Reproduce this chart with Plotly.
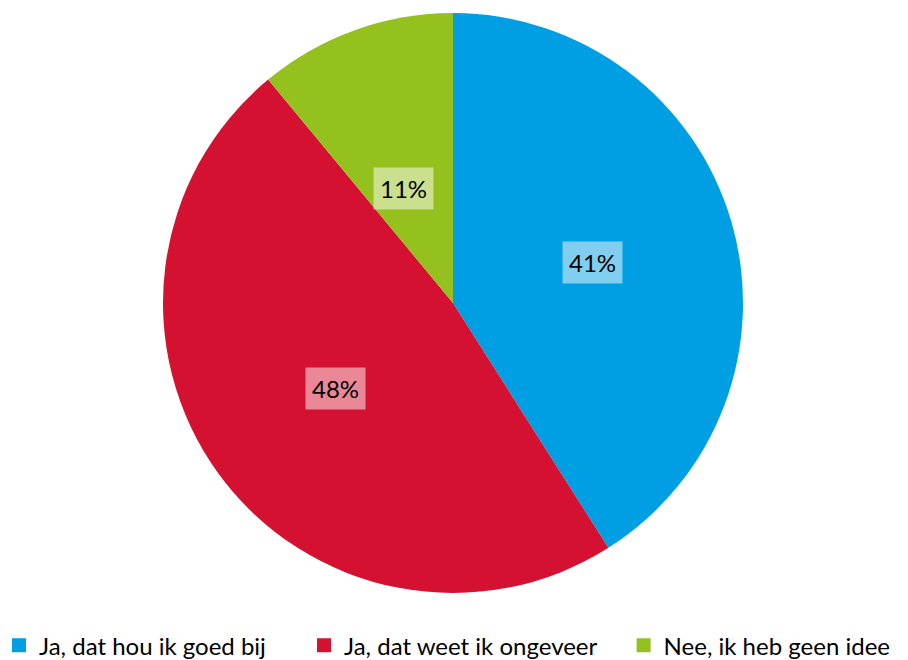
import math
import plotly.graph_objects as go

categories = ["Ja, dat hou ik goed bij", "Ja, dat weet ik ongeveer", "Nee, ik heb geen idee"]
values = [41, 48, 11]
colors = ["#009FE3", "#D41130", "#95C11F"]
label_bg = ["rgba(255,255,255,0.5)", "rgba(255,255,255,0.5)", "rgba(255,255,255,0.5)"]
legend_x = [-0.0099, 0.326, 0.678]

W, H = 908, 660
mt, mb = 5, 75
plot_h = H - mt - mb
plot_w_frac = 890 / W
radius_px = plot_h / 2
font_family = "Lato, Open Sans, sans-serif"

fig = go.Figure(go.Pie(
    labels=categories,
    values=values,
    sort=False,
    direction="clockwise",
    rotation=0,
    marker=dict(colors=colors, line=dict(width=0)),
    textinfo="none",
    hoverinfo="label+percent",
    showlegend=False,
    domain=dict(x=[0, plot_w_frac], y=[0, 1]),
))

# legend entries: one legend per category so each can sit where the reference has it
legend_layout = {}
for i, (cat, col, lx) in enumerate(zip(categories, colors, legend_x)):
    key = "legend" if i == 0 else f"legend{i + 1}"
    fig.add_trace(go.Scatter(
        x=[None], y=[None], mode="markers", name=cat,
        marker=dict(symbol="square", size=14, color=col),
        legend=key, showlegend=True, hoverinfo="skip",
    ))
    legend_layout[key] = dict(
        orientation="h", x=lx, xanchor="left", y=-0.052, yanchor="top",
        font=dict(family=font_family, size=24, color="#000000"),
        itemwidth=30, bgcolor="rgba(0,0,0,0)",
    )

# data labels placed at the middle angle of each slice
total = sum(values)
cum = 0
annotations = []
for v, bg in zip(values, label_bg):
    mid = (cum + v / 2) / total * 2 * math.pi
    cum += v
    r = 0.5 * radius_px
    dx = r * math.sin(mid)
    dy = r * math.cos(mid)
    annotations.append(dict(
        x=plot_w_frac / 2 + dx / W, y=0.5 + dy / plot_h, xref="paper", yref="paper",
        text=f"{round(v / total * 100)}%", showarrow=False,
        font=dict(family=font_family, size=24, color="#000000"),
        bgcolor=bg, borderpad=6,
    ))

fig.update_layout(
    width=W, height=H,
    margin=dict(l=0, r=0, t=mt, b=mb, autoexpand=False),
    paper_bgcolor="white",
    plot_bgcolor="white",
    annotations=annotations,
    xaxis=dict(visible=False),
    yaxis=dict(visible=False),
    **legend_layout,
)

fig.write_html("out.html")
